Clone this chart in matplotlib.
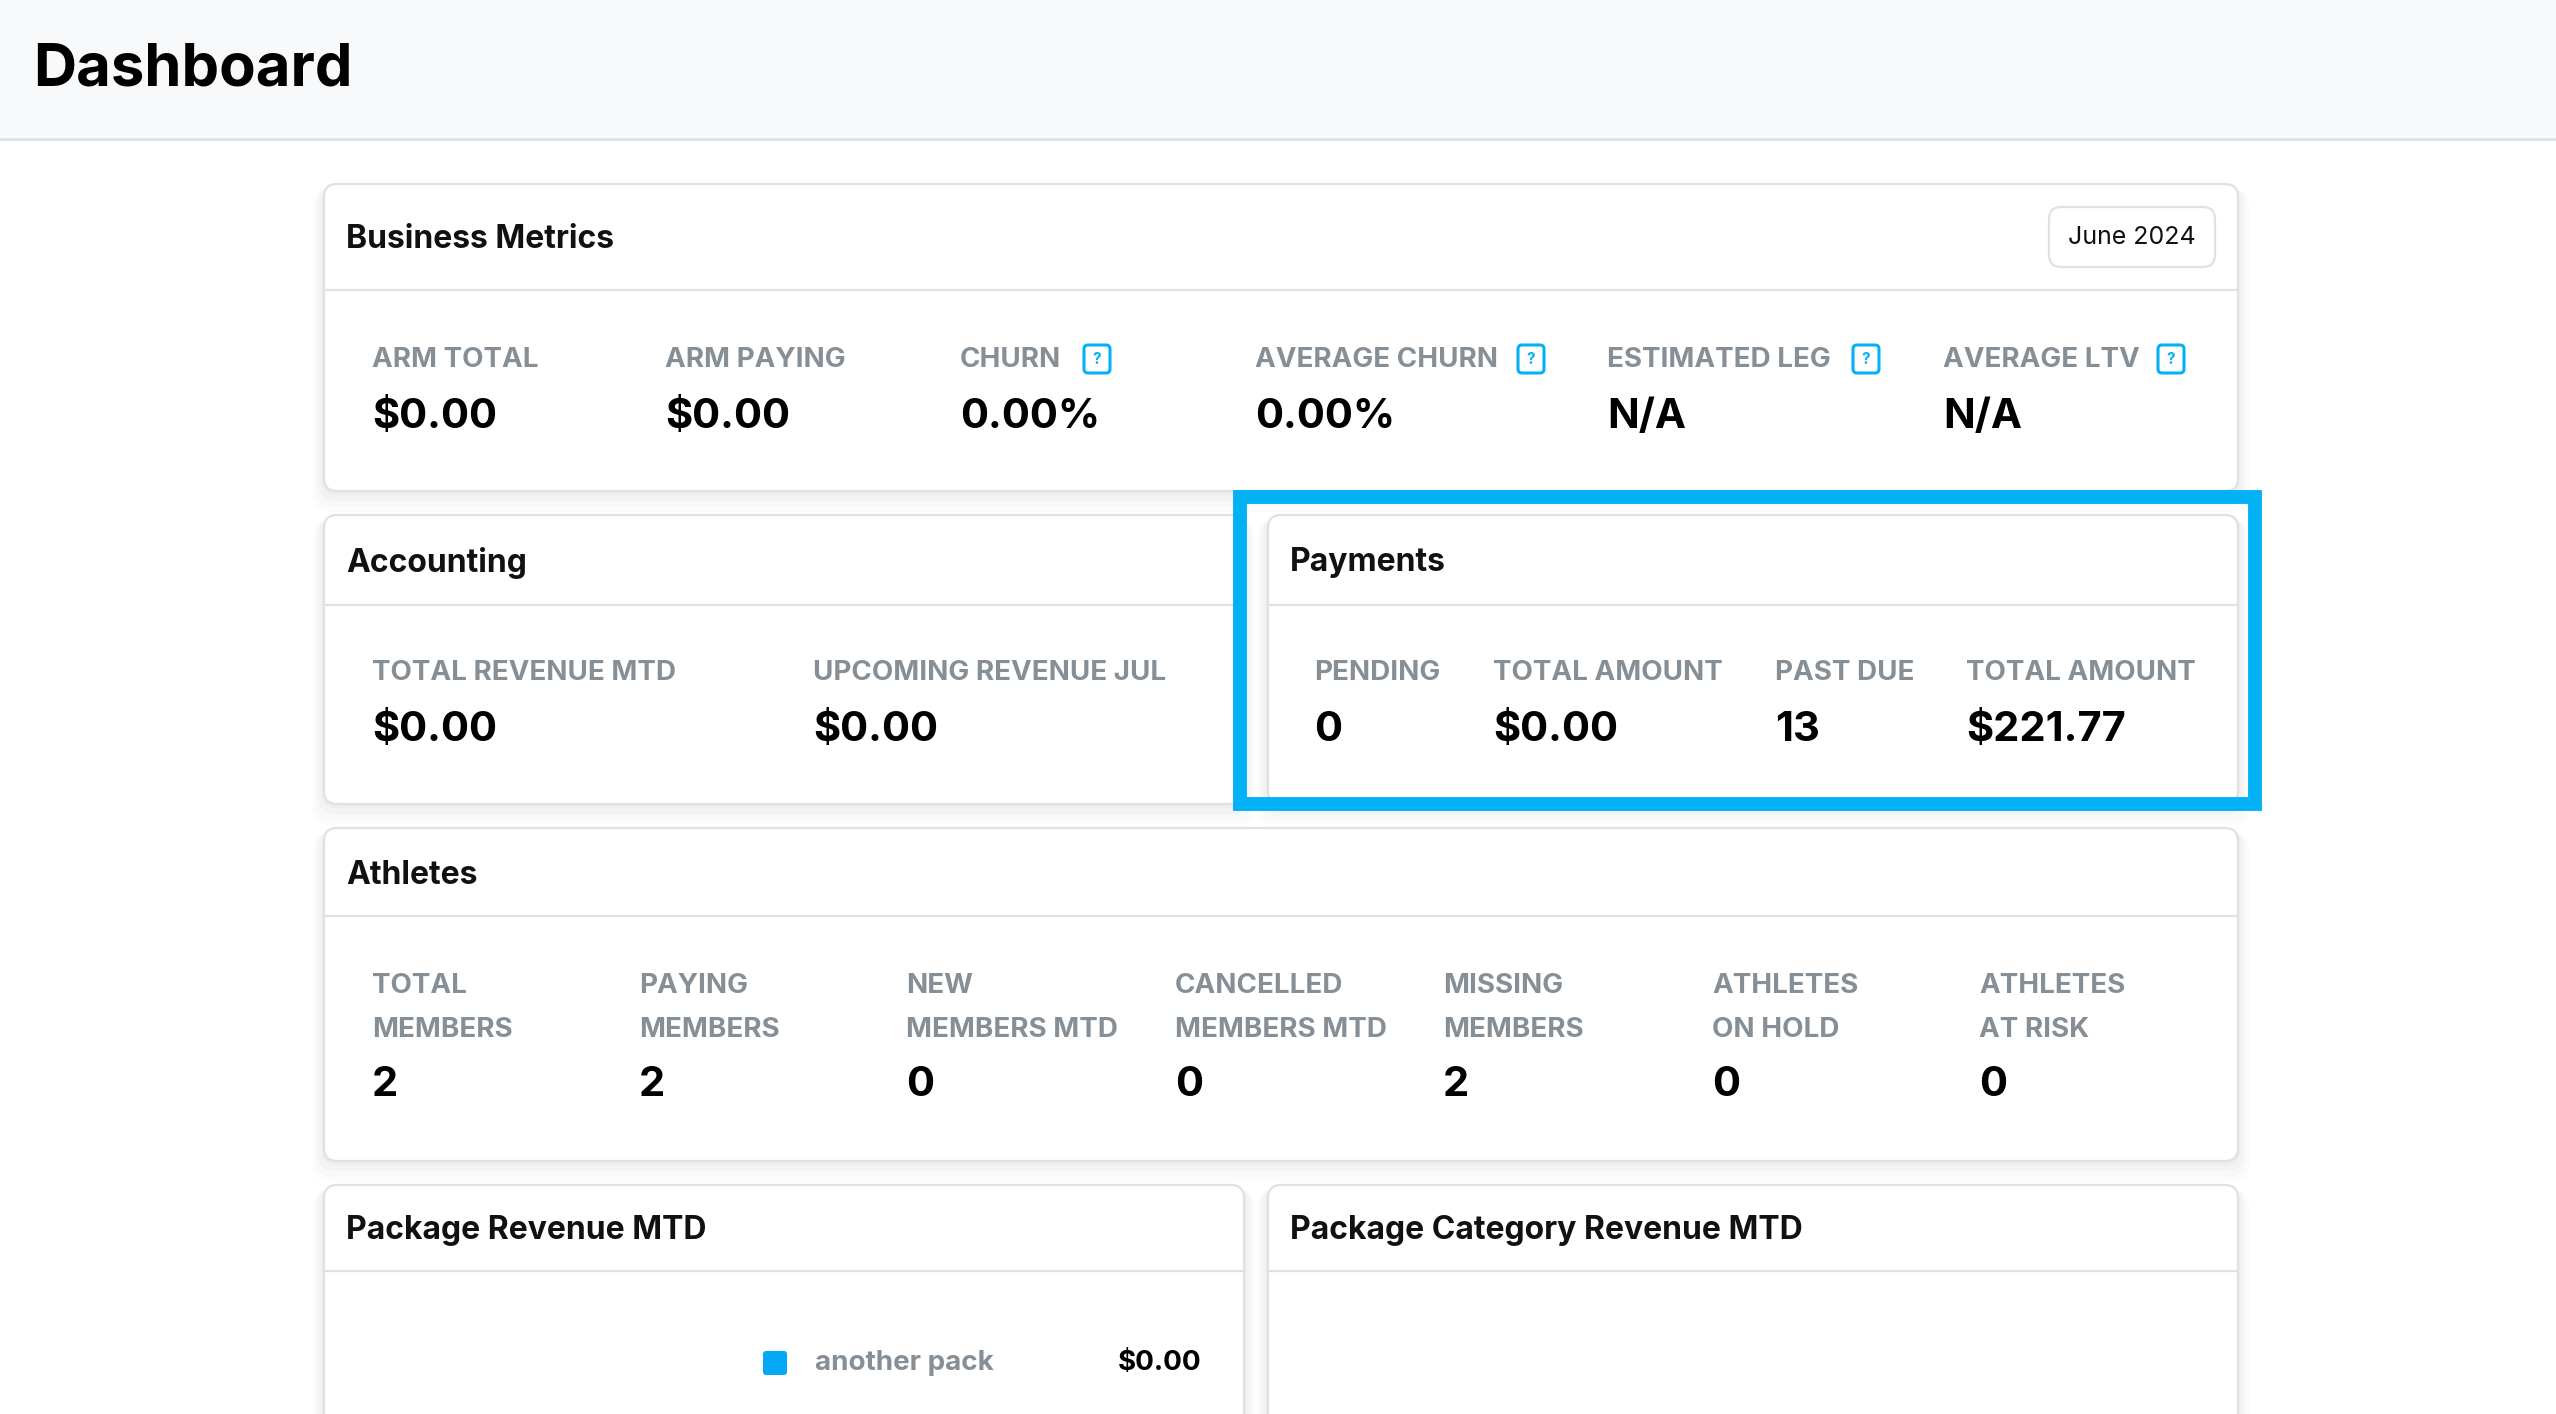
import matplotlib.pyplot as plt
from matplotlib.patches import FancyBboxPatch, Rectangle

plt.rcParams["font.family"] = ["Inter", "DejaVu Sans"]

# data
business_labels = ["ARM TOTAL", "ARM PAYING", "CHURN", "AVERAGE CHURN", "ESTIMATED LEG", "AVERAGE LTV"]
business_values = ["$0.00", "$0.00", "0.00%", "0.00%", "N/A", "N/A"]
business_help = [False, False, True, True, True, True]
business_month = "June 2024"

accounting_labels = ["TOTAL REVENUE MTD", "UPCOMING REVENUE JUL"]
accounting_values = ["$0.00", "$0.00"]

payment_labels = ["PENDING", "TOTAL AMOUNT", "PAST DUE", "TOTAL AMOUNT"]
payment_values = ["0", "$0.00", "13", "$221.77"]

athlete_labels = ["TOTAL\nMEMBERS", "PAYING\nMEMBERS", "NEW\nMEMBERS MTD", "CANCELLED\nMEMBERS MTD",
                  "MISSING\nMEMBERS", "ATHLETES\nON HOLD", "ATHLETES\nAT RISK"]
athlete_values = ["2", "2", "0", "0", "2", "0", "0"]

package_names = ["another pack"]
package_revenue = ["$0.00"]

W, H = 2556, 1414
GRAY = "#868e96"
BORDER = "#dee2e6"
BLUE = "#03b1f5"

fig = plt.figure(figsize=(W / 100, H / 100), dpi=100)
ax = fig.add_axes([0, 0, 1, 1])
ax.set_xlim(0, W)
ax.set_ylim(H, 0)
ax.axis("off")
fig.patch.set_facecolor("white")


def card(x0, y0, x1, y1, title, head_h):
    # soft shadow
    for i, a in enumerate([0.025, 0.02, 0.015, 0.01]):
        d = 4 + i * 5
        ax.add_patch(FancyBboxPatch((x0 - d * 0.6, y0 + d * 0.3), x1 - x0 + d * 1.2, y1 - y0 + d * 0.8,
                                    boxstyle="round,pad=0,rounding_size=16", fc="black", ec="none",
                                    alpha=a, zorder=1))
    ax.add_patch(FancyBboxPatch((x0, y0), x1 - x0, y1 - y0, boxstyle="round,pad=0,rounding_size=13",
                                fc="white", ec=BORDER, lw=1.6, zorder=2))
    ax.plot([x0, x1], [y0 + head_h, y0 + head_h], color=BORDER, lw=1.6, zorder=3)
    ax.text(x0 + 22, y0 + head_h / 2 + 3, title, fontsize=23, fontweight="bold", color="#111",
            va="center", ha="left", zorder=4)


def metric(x, yl, yv, label, value):
    ax.text(x, yl, label, fontsize=20, fontweight="bold", color=GRAY, va="center", ha="left",
            zorder=4, linespacing=1.9)
    ax.text(x, yv, value, fontsize=30, fontweight="bold", color="black", va="center", ha="left", zorder=4)


def help_icon(x, y):
    ax.add_patch(FancyBboxPatch((x - 13, y - 14), 26, 28, boxstyle="round,pad=0,rounding_size=4",
                                fc="white", ec=BLUE, lw=2.2, zorder=4))
    ax.text(x, y + 1, "?", fontsize=11, fontweight="bold", color=BLUE, va="center", ha="center", zorder=5)


# header
ax.add_patch(Rectangle((0, 0), W, 139, fc="#f8f9fa", ec="none", zorder=0))
ax.plot([0, W], [139, 139], color=BORDER, lw=2, zorder=1)
ax.text(33, 70, "Dashboard", fontsize=43, fontweight="bold", color="black", va="center", ha="left")

# business metrics
card(324, 184, 2238, 491, "Business Metrics", 106)
ax.add_patch(FancyBboxPatch((2049, 207), 166, 60, boxstyle="round,pad=0,rounding_size=12",
                            fc="white", ec=BORDER, lw=1.6, zorder=4))
ax.text(2132, 238, business_month, fontsize=18, color="#111", va="center", ha="center", zorder=5)
bx = [372, 665, 960, 1255, 1607, 1943]
hx = [None, None, 1097, 1531, 1866, 2171]
for i, (lab, val) in enumerate(zip(business_labels, business_values)):
    metric(bx[i], 360, 417, lab, val)
    if business_help[i]:
        help_icon(hx[i], 359)

# accounting
card(324, 515, 1244, 804, "Accounting", 90)
for x, lab, val in zip([372, 813], accounting_labels, accounting_values):
    metric(x, 673, 730, lab, val)

# payments
card(1268, 515, 2238, 804, "Payments", 90)
for x, lab, val in zip([1314, 1493, 1775, 1966], payment_labels, payment_values):
    metric(x, 673, 730, lab, val)
ax.add_patch(Rectangle((1240, 497), 1015, 307, fc="none", ec=BLUE, lw=10, zorder=6))

# athletes
card(324, 828, 2238, 1161, "Athletes", 88)
ax_x = [372, 639, 906, 1175, 1443, 1712, 1979]
for x, lab, val in zip(ax_x, athlete_labels, athlete_values):
    metric(x, 1008, 1085, lab, val)

# packages
card(324, 1185, 1244, 1480, "Package Revenue MTD", 86)
card(1268, 1185, 2238, 1480, "Package Category Revenue MTD", 86)
for i, (name, rev) in enumerate(zip(package_names, package_revenue)):
    y = 1363 + i * 50
    ax.add_patch(FancyBboxPatch((763, y - 12), 24, 24, boxstyle="round,pad=0,rounding_size=3",
                                fc="#03a9f4", ec="none", zorder=4))
    ax.text(815, y, name, fontsize=20, fontweight="bold", color=GRAY, va="center", ha="left", zorder=4)
    ax.text(1201, y, rev, fontsize=20, fontweight="bold", color="black", va="center", ha="right", zorder=4)

fig.savefig("out.png", dpi=100)
